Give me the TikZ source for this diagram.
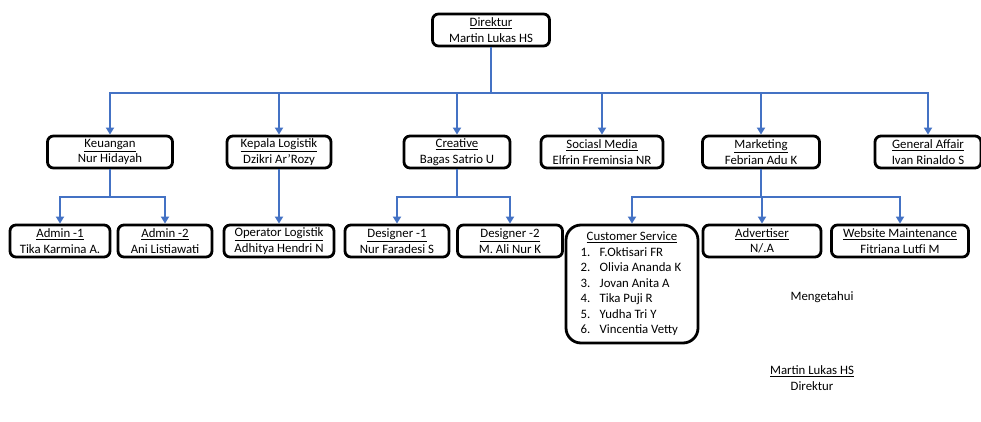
\documentclass[tikz,border=0pt]{standalone}
\usepackage{fontspec}
\setmainfont{Carlito}
\usetikzlibrary{arrows.meta}
\definecolor{linkblue}{RGB}{68,114,196}
\begin{document}
\begin{tikzpicture}[x=1pt,y=-1pt]
    \tikzset{
        box/.style={draw, line width=2.8pt, rounded corners=6pt, fill=white, minimum height=32pt, align=center, inner sep=2pt, font=\fontsize{12.8}{15.5}\selectfont},
        listbox/.style={box, rounded corners=15pt, minimum width=132pt, minimum height=118pt},
        arc/.style={-{Triangle[length=7pt,width=8pt]}, draw=linkblue, line width=2.6pt},
        link/.style={draw=linkblue, line width=2.6pt}
    }
    \useasboundingbox (0,0) rectangle (981,422);

    % top
    \draw node[box, minimum width=117pt] (dir) at (491,30) {\underline{Direktur}\\Martin Lukas HS};

    % divisions
    \draw node[box, minimum width=125pt] (keu) at (110,152) {\underline{Keuangan}\\Nur Hidayah};
    \draw node[box, minimum width=104pt] (log) at (279,152) {\underline{Kepala Logistik}\\Dzikri Ar'Rozy};
    \draw node[box, minimum width=106pt] (cre) at (457,152) {\underline{Creative}\\Bagas Satrio U};
    \draw node[box, minimum width=122pt] (sos) at (602,152) {\underline{Sociasl Media}\\Elfrin Freminsia NR};
    \draw node[box, minimum width=117pt] (mkt) at (761,152) {\underline{Marketing}\\Febrian Adu K};
    \draw node[box, minimum width=106pt] (ga) at (928,152) {\underline{General Affair}\\Ivan Rinaldo S};

    % staff
    \draw node[box, minimum width=100pt] (adm1) at (60,241) {\underline{Admin -1}\\Tika Karmina A.};
    \draw node[box, minimum width=94pt] (adm2) at (165,241) {\underline{Admin -2}\\Ani Listiawati};
    \draw node[box, minimum width=110pt] (opl) at (279,241) {\underline{Operator Logistik}\\Adhitya Hendri N};
    \draw node[box, minimum width=104pt] (des1) at (397,241) {\underline{Designer -1}\\Nur Faradesi S};
    \draw node[box, minimum width=105pt] (des2) at (510,241) {\underline{Designer -2}\\M. Ali Nur K};
    \draw node[listbox] (cs) at (632,284) {%
        \begin{tabular}{@{}p{19pt}@{}l@{}}
            \multicolumn{2}{c}{\underline{Customer Service}}\\
            1. & F.Oktisari FR\\
            2. & Olivia Ananda K\\
            3. & Jovan Anita A\\
            4. & Tika Puji R\\
            5. & Yudha Tri Y\\
            6. & Vincentia Vetty
        \end{tabular}};
    \draw node[box, minimum width=118pt] (adv) at (762,241) {\underline{Advertiser}\\N/.A};
    \draw node[box, minimum width=137pt] (web) at (900,241) {\underline{Website Maintenance}\\Fitriana Lutfi M};

    % signature
    \node[font=\fontsize{12.8}{15.5}\selectfont] (ack) at (822,297) {Mengetahui};
    \node[align=center, font=\fontsize{12.8}{15.5}\selectfont] (sign) at (812,378) {\underline{Martin Lukas HS}\\Direktur};

    % connectors
    \coordinate (bus) at (491,93);
    \draw[link] (dir) -- (bus);
    \foreach \x in {keu,log,cre,sos,mkt,ga}{
        \draw[arc] (bus) -| (\x);
    }

    \coordinate (keubus) at (110,197);
    \draw[link] (keu) -- (keubus);
    \draw[arc] (keubus) -| (adm1);
    \draw[arc] (keubus) -| (adm2);

    \draw[arc] (log) -- (opl);

    \coordinate (crebus) at (457,197);
    \draw[link] (cre) -- (crebus);
    \draw[arc] (crebus) -| (des1);
    \draw[arc] (crebus) -| (des2);

    \coordinate (mktbus) at (761,197);
    \draw[link] (mkt) -- (mktbus);
    \foreach \x in {cs,adv,web}{
        \draw[arc] (mktbus) -| (\x);
    }
\end{tikzpicture}
\end{document}
